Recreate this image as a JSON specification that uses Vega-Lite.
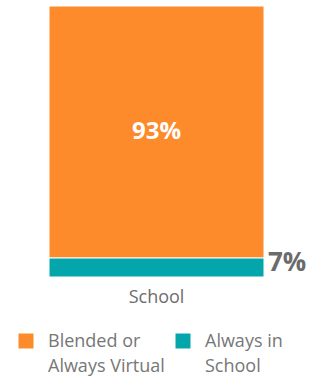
{
  "$schema": "https://vega.github.io/schema/vega-lite/v6.json",
  "width": 215,
  "height": 271,
  "autosize": {"type": "none"},
  "padding": {"left": 49, "top": 6, "right": 45, "bottom": 101},
  "config": {"view": {"stroke": null}, "font": "Open Sans", "style": {"guide-label": {"lineHeight": 25, "dy": 6}}},
  "data": {
    "values": [
      {"school": "School", "group": "Blended or Always Virtual", "pct": 93, "label": "93%", "order": 2},
      {"school": "School", "group": "Always in School", "pct": 7, "label": "7%", "order": 1}
    ]
  },
  "encoding": {
    "x": {
      "field": "school",
      "type": "nominal",
      "scale": {"paddingInner": 0, "paddingOuter": 0},
      "axis": {"title": null, "labelAngle": 0, "domain": false, "ticks": false, "labelFontSize": 18, "labelColor": "#6d6d6d", "labelPadding": 5, "labelFont": "Open Sans"}
    },
    "order": {"field": "order", "type": "quantitative"}
  },
  "layer": [
    {
      "mark": {"type": "bar", "stroke": "white", "strokeWidth": 1},
      "encoding": {
        "y": {"field": "pct", "type": "quantitative", "stack": "zero", "scale": {"domain": [0, 100]}, "axis": null},
        "color": {
          "field": "group",
          "type": "nominal",
          "scale": {"domain": ["Blended or Always Virtual", "Always in School"], "range": ["#FD8A2B", "#03A6AB"]},
          "legend": {
            "orient": "none",
            "legendX": -32,
            "legendY": 326,
            "direction": "horizontal",
            "columns": 2,
            "title": null,
            "padding": 0,
            "symbolType": "square",
            "symbolSize": 225,
            "symbolStrokeWidth": 0,
            "labelFontSize": 18,
            "labelColor": "#777777",
            "labelFont": "Open Sans",
            "labelOffset": 13,
            "columnPadding": 9,
            "labelLimit": 200,
            "labelBaseline": "alphabetic",
            "labelExpr": "datum.label == 'Blended or Always Virtual' ? ['Blended or', 'Always Virtual'] : ['Always in', 'School']"
          }
        }
      }
    },
    {
      "mark": {"type": "text", "fontWeight": "bold", "fontSize": 24, "color": "white", "font": "Open Sans"},
      "encoding": {
        "y": {"field": "pct", "type": "quantitative", "stack": "zero", "bandPosition": 0.5},
        "detail": {"field": "group"},
        "text": {"condition": {"test": "datum.pct > 50", "field": "label"}, "value": ""}
      }
    },
    {
      "mark": {"type": "text", "fontWeight": "bold", "fontSize": 26, "color": "#6b6b6b", "align": "left", "dx": 4, "dy": -5, "font": "Open Sans"},
      "encoding": {
        "x": {"field": "school", "type": "nominal", "bandPosition": 1},
        "y": {"field": "pct", "type": "quantitative", "stack": "zero", "bandPosition": 0.5},
        "detail": {"field": "group"},
        "text": {"condition": {"test": "datum.pct < 50", "field": "label"}, "value": ""}
      }
    }
  ]
}
